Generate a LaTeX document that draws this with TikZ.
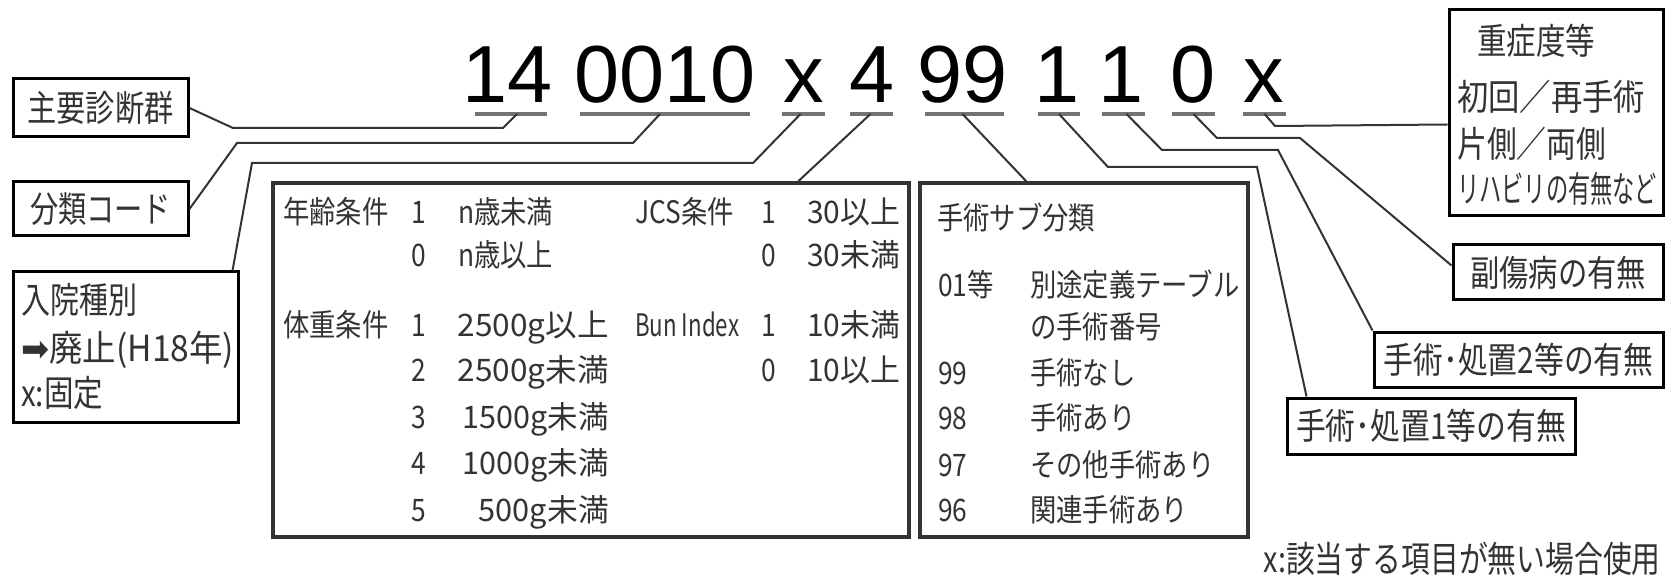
\documentclass[tikz,border=0pt]{standalone}
\usepackage{fontspec}
\usepackage{graphicx}
\usetikzlibrary{calc}
\setmainfont{Liberation Sans}
\newfontfamily\jp{Noto Sans CJK JP}
\newfontfamily\jpc{Noto Sans CJK JP}[FakeStretch=0.85]
\newfontfamily\dig{Liberation Sans}
\newfontfamily\dv{DejaVu Sans}
\newcommand{\fitw}[2]{\resizebox{#1pt}{\height}{#2}}
\tikzset{
  conn/.style={draw=black!80, line width=2pt},
  uline/.style={fill=black!55, inner sep=0pt, minimum height=4.5pt, draw=none},
  box/.style={draw=black, line width=3pt, fill=white, inner sep=0pt},
  tbox/.style={draw=black!80, line width=3.5pt, fill=white, inner sep=0pt},
  big/.style={font=\dig\fontsize{81}{90}\selectfont, inner sep=0pt, anchor=base},
  tt/.style={font=\jpc\fontsize{31}{37}\selectfont, text=black!80, inner sep=0pt, text height=27.3pt, text depth=3.7pt},
  lt/.style={font=\jp\fontsize{36}{42}\selectfont, text=black!80, inner sep=0pt, text height=31.7pt, text depth=4.3pt},
}
\begin{document}
\begin{tikzpicture}[x=1pt,y=-1pt]
\useasboundingbox (0,0) rectangle (1673,577);
\fill[white] (0,0) rectangle (1673,577);

% code digits
\node[big] (d1) at (508,103) {14};
\node[big] (d2) at (665,103) {0010};
\node[big] (d3) at (804,103) {x};
\node[big] (d4) at (872,103) {4};
\node[big] (d5) at (963,103) {99};
\node[big] (d6) at (1057,103) {1};
\node[big] (d7) at (1121,103) {1};
\node[big] (d8) at (1193,103) {0};
\node[big] (d9) at (1264,103) {x};

% underlines
\node[uline, minimum width=72pt] (ul1) at (511,114) {};
\node[uline, minimum width=170pt] (ul2) at (665,114) {};
\node[uline, minimum width=43pt] (ul3) at (803.5,114) {};
\node[uline, minimum width=43pt] (ul4) at (871.5,114) {};
\node[uline, minimum width=79pt] (ul5) at (964.5,114) {};
\node[uline, minimum width=42pt] (ul6) at (1059,114) {};
\node[uline, minimum width=43pt] (ul7) at (1123.5,114) {};
\node[uline, minimum width=43pt] (ul8) at (1193.5,114) {};
\node[uline, minimum width=43pt] (ul9) at (1264.5,114) {};

% single-line label boxes
\node[box, lt, minimum width=175pt, minimum height=58pt] (shu) at (100.5,108) {\fitw{146}{主要診断群}};
\node[box, lt, minimum width=175pt, minimum height=54pt] (bun) at (100.5,209) {\fitw{141}{分類コード}};
\node[box, lt, minimum width=210pt, minimum height=55pt] (fuku) at (1558,272.5) {\fitw{176}{副傷病の有無}};
\node[box, lt, minimum width=289pt, minimum height=55pt] (s2) at (1518.5,359.5) {\fitw{270}{手術･処置2等の有無}};
\node[box, lt, minimum width=288pt, minimum height=56pt] (s1) at (1431,426) {\fitw{270}{手術･処置1等の有無}};

% multi-line boxes
\node[box, minimum width=214pt, minimum height=206pt] (ju) at (1556,113) {};
\node[lt, anchor=west] (ju1) at (1477,41) {\fitw{118}{重症度等}};
\node[lt, anchor=west] (ju2) at (1457,97) {\fitw{188}{初回／再手術}};
\node[lt, anchor=west] (ju3) at (1457,144) {\fitw{149}{片側／両側}};
\node[lt, anchor=west] (ju4) at (1457,189) {\fitw{200}{リハビリの有無など}};

\node[box, minimum width=225pt, minimum height=150pt] (nyu) at (125.5,347) {};
\node[lt, anchor=west] (ny1) at (21,300) {\fitw{116}{入院種別}};
\node[lt, anchor=west] (ny2) at (21,348) {\fitw{213}{{\dv ➡}廃止(H18年)}};
\node[lt, anchor=west] (ny3) at (21,393) {\fitw{82}{x:固定}};

% condition table
\node[tbox, minimum width=636pt, minimum height=354pt] (tbl) at (591,360) {};
\node[tt, anchor=west] at (283,212) {年齢条件};
\node[tt] at (419,212) {1};
\node[tt, anchor=west] at (458,212) {n歳未満};
\node[tt] at (419,255) {0};
\node[tt, anchor=west] at (458,255) {n歳以上};
\node[tt, anchor=west] at (283,325) {体重条件};
\node[tt] at (419,325) {1};
\node[tt, anchor=east] at (609,325) {\fitw{151}{2500g以上}};
\node[tt] at (419,370) {2};
\node[tt, anchor=east] at (609,370) {\fitw{151}{2500g未満}};
\node[tt] at (419,417) {3};
\node[tt, anchor=east] at (609,417) {\fitw{146}{1500g未満}};
\node[tt] at (419,463) {4};
\node[tt, anchor=east] at (609,463) {\fitw{146}{1000g未満}};
\node[tt] at (419,510) {5};
\node[tt, anchor=east] at (609,510) {\fitw{130}{500g未満}};
\node[tt, anchor=west] at (635,212) {JCS条件};
\node[tt] at (769,212) {1};
\node[tt, anchor=west] at (807,212) {\fitw{93}{30以上}};
\node[tt] at (769,255) {0};
\node[tt, anchor=west] at (807,255) {\fitw{93}{30未満}};
\node[tt, anchor=west] at (635,325) {\fitw{104}{Bun Index}};
\node[tt] at (769,325) {1};
\node[tt, anchor=west] at (807,325) {\fitw{93}{10未満}};
\node[tt] at (769,370) {0};
\node[tt, anchor=west] at (807,370) {\fitw{93}{10以上}};

% surgery sub-classification
\node[tbox, minimum width=328pt, minimum height=354pt] (sub) at (1084,360) {};
\node[tt, anchor=west] at (937,218) {手術サブ分類};
\node[tt, anchor=west] at (938,285) {01等};
\node[tt, anchor=west] at (1030,285) {別途定義テーブル};
\node[tt, anchor=west] at (1030,327) {の手術番号};
\node[tt, anchor=west] at (938,373) {99};
\node[tt, anchor=west] at (1030,373) {手術なし};
\node[tt, anchor=west] at (938,418) {98};
\node[tt, anchor=west] at (1030,418) {手術あり};
\node[tt, anchor=west] at (938,465) {97};
\node[tt, anchor=west] at (1030,465) {その他手術あり};
\node[tt, anchor=west] at (938,510) {96};
\node[tt, anchor=west] at (1030,510) {関連手術あり};

% footnote
\node[lt, anchor=east] (note) at (1661,559) {\fitw{397}{x:該当する項目が無い場合使用}};

% connectors
\draw[conn] (shu.east) -- (233,128) -- (503,128) -- ([xshift=6pt]ul1.center);
\draw[conn] (bun.east) -- (237,143) -- (633,143) -- ([xshift=-5pt]ul2.center);
\draw[conn] ([xshift=-7pt]nyu.north east) -- (252,163) -- (753,163) -- ([xshift=-3pt]ul3.center);
\draw[conn] ([xshift=-1pt]ul4.center) -- ($(tbl.north west)+(527,0)$);
\draw[conn] ([xshift=-2pt]ul5.center) -- ($(sub.north west)+(108,0)$);
\draw[conn] (ul6.center) -- (1108,167) -- (1257,167) -- ($(s1.north west)+(21,0)$);
\draw[conn] ([xshift=3pt]ul7.center) -- (1162,150) -- (1278,150) -- (s2.north west);
\draw[conn] (ul8.center) -- (1217,138) -- (1300,138) -- ($(fuku.north west)+(0,22)$);
\draw[conn] (ul9.center) -- (1275,126) -- ($(ju.north west)+(0,116)$);
\end{tikzpicture}
\end{document}
